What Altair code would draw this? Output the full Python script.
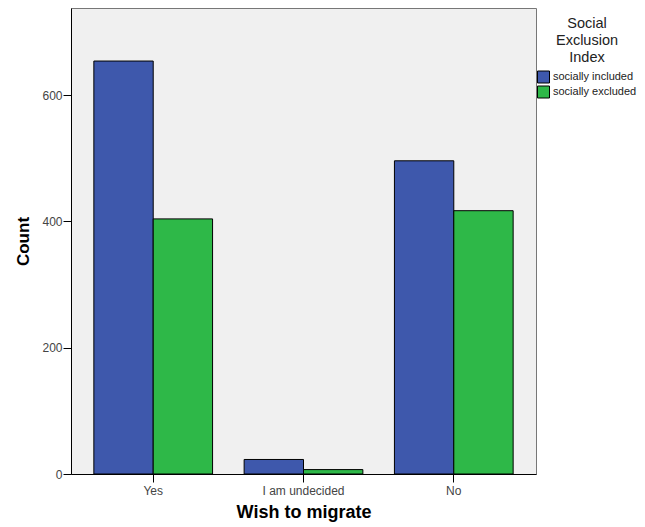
import altair as alt
import pandas as pd

categories = ["Yes", "I am undecided", "No"]
groups = ["socially included", "socially excluded"]
included = [654, 23, 496]
excluded = [404, 7, 417]
colors = ["#3E58AC", "#2EB848"]

rows = []
for c, a, b in zip(categories, included, excluded):
    rows.append({"wish": c, "group": groups[0], "count": a})
    rows.append({"wish": c, "group": groups[1], "count": b})
df = pd.DataFrame(rows)

FONT = "Liberation Sans"

chart = alt.Chart(df).mark_bar(stroke="black", strokeWidth=1).encode(
    x=alt.X(
        "wish:N", sort=categories,
        scale=alt.Scale(paddingInner=0.21, paddingOuter=0.152),
        axis=alt.Axis(title="Wish to migrate", labelAngle=0, labelFont=FONT, labelFontSize=12,
                      labelColor="#444444", tickSize=8, tickColor="black", domainColor="black",
                      labelPadding=3, titleFont=FONT, titleFontSize=18, titleFontWeight="bold",
                      titleColor="black", titlePadding=7),
    ),
    xOffset=alt.XOffset("group:N", sort=groups, scale=alt.Scale(paddingInner=0, paddingOuter=0)),
    y=alt.Y(
        "count:Q",
        scale=alt.Scale(domain=[0, 738], nice=False),
        axis=alt.Axis(values=[0, 200, 400, 600], title="Count", grid=False, labelFont=FONT,
                      labelFontSize=12, labelColor="#444444", tickSize=8, tickColor="black",
                      domainColor="black", labelPadding=1, titleFont=FONT, titleFontSize=17,
                      titleFontWeight="bold", titleColor="black", titlePadding=9),
    ),
    color=alt.Color(
        "group:N", sort=groups,
        scale=alt.Scale(domain=groups, range=colors),
        legend=alt.Legend(title=["Social", "Exclusion", "Index"], orient="none", legendX=466,
                          legendY=9, titleFont=FONT, titleFontSize=14.5, titleFontWeight="normal",
                          titleColor="#222222", titleLineHeight=17, titleAlign="center",
                          titleAnchor="middle", titlePadding=5, symbolType="square",
                          symbolSize=144, symbolStrokeColor="black", symbolStrokeWidth=1,
                          labelFont=FONT, labelFontSize=11, labelColor="#222222",
                          labelOffset=3, rowPadding=-3),
    ),
).properties(
    width=465, height=466,
    padding={"left": 63, "top": 0, "right": 101, "bottom": 50},
    autosize=alt.AutoSizeParams(type="none"),
    background="white",
).configure_view(fill="#F0F0F0", stroke="#777777")

chart.save("out.html", embed_options={"renderer": "svg", "actions": False})
